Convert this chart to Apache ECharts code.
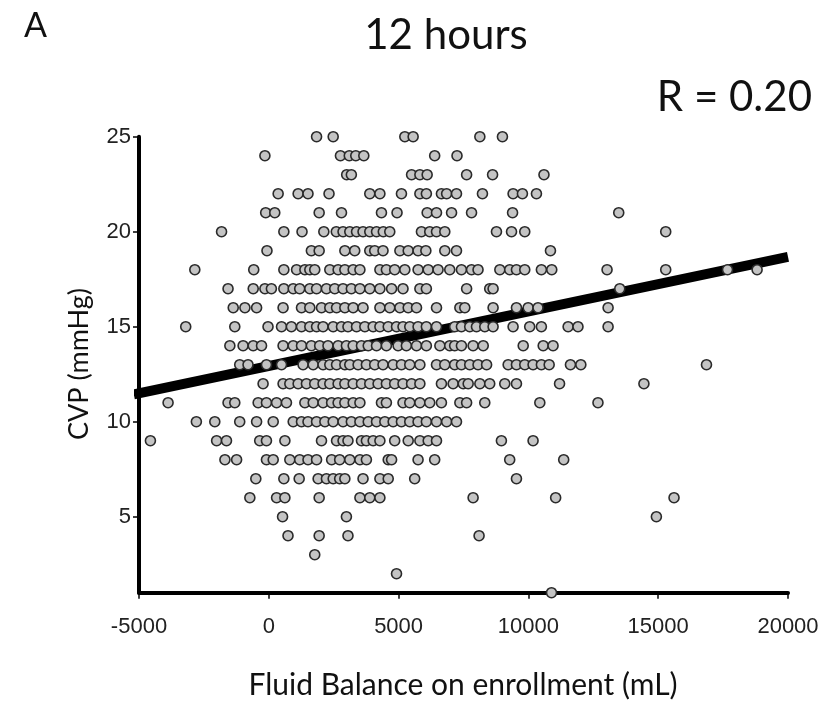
<!DOCTYPE html>
<html>
<head>
<meta charset="utf-8">
<script src="https://cdn.jsdelivr.net/npm/echarts@6/dist/echarts.min.js"></script>
<style>
html,body{margin:0;padding:0;background:#fff;}
#chart{width:821px;height:702px;}
</style>
</head>
<body>
<div id="chart"></div>
<script>
// Fluid balance (mL) of the points at each CVP level (mmHg)
const cvp25 = [1840, 2480, 5240, 5560, 8130, 9000];
const cvp24 = [-150, 2760, 3100, 3350, 3660, 6390, 7250];
const cvp23 = [3000, 3180, 5500, 5820, 6100, 7620, 8620, 10600];
const cvp22 = [360, 1130, 1510, 2320, 3890, 4280, 5110, 5820, 6070, 6650, 6850, 7230, 8230, 9410, 9770, 10310];
const cvp21 = [-120, 230, 1940, 2800, 4340, 4940, 6100, 6460, 7040, 7810, 9390, 13480];
const cvp20 = [-1820, 580, 1280, 2120, 2600, 2860, 3120, 3380, 3630, 3890, 4150, 4410, 4660, 5880, 6200, 6460, 6780, 8770, 9350, 9860, 15290];
const cvp19 = [-70, 1640, 1940, 2930, 3310, 3890, 4080, 4400, 5050, 5370, 5750, 6050, 6780, 7230, 10850];
const cvp18 = [-2850, -580, 580, 1070, 1390, 1580, 1770, 2350, 2670, 2930, 3250, 3510, 4280, 4530, 4850, 5240, 5750, 6140, 6520, 6970, 7420, 7810, 8060, 8900, 9280, 9540, 9860, 10500, 10900, 13030, 15290, 17670, 18810];
const cvp17 = [-1570, -600, -150, 100, 580, 940, 1190, 1580, 1840, 2220, 2540, 2860, 3180, 3510, 3890, 4280, 4730, 5170, 5820, 6070, 7620, 8510, 8640, 13520];
const cvp16 = [-1370, -920, -470, 550, 1260, 1580, 2030, 2350, 2610, 2930, 3250, 3630, 4280, 4660, 5050, 5370, 5690, 6460, 7360, 7550, 8640, 9540, 9990, 10370, 13070];
const cvp15 = [-3200, -1310, -30, 490, 870, 1260, 1580, 1840, 2090, 2480, 2800, 3050, 3380, 3700, 4020, 4280, 4600, 4920, 5170, 5430, 5750, 6070, 6460, 7160, 7420, 7740, 8000, 8320, 8640, 9410, 10050, 10500, 11530, 11910, 13070];
const cvp14 = [-1500, -990, -600, -280, 550, 940, 1260, 1640, 1960, 2280, 2670, 2990, 3250, 3570, 3830, 4150, 4530, 4980, 5300, 5690, 6070, 6590, 6970, 7160, 7420, 7870, 8260, 9800, 10570, 10950];
const cvp13 = [-1120, -800, -90, 490, 1320, 1710, 2090, 2350, 2610, 2930, 3120, 3440, 3760, 4080, 4400, 4790, 5110, 5430, 5820, 6460, 6780, 7160, 7420, 7740, 8060, 8390, 9220, 9540, 9860, 10180, 10500, 10800, 11620, 12020, 16860];
const cvp12 = [-220, 550, 810, 1130, 1450, 1770, 2090, 2350, 2670, 2930, 3250, 3570, 3890, 4210, 4530, 4850, 5170, 5500, 5820, 6650, 7100, 7490, 7680, 8130, 8510, 9090, 9540, 11200, 14450];
const cvp11 = [-3880, -1570, -1310, -410, -90, 300, 680, 1390, 1710, 2090, 2420, 2670, 2930, 3250, 3510, 4340, 4530, 5170, 5430, 5820, 6200, 6650, 7360, 7620, 8320, 10440, 12680];
const cvp10 = [-2790, -2080, -1120, -470, 170, 940, 1260, 1510, 1840, 2160, 2480, 2860, 3180, 3510, 3830, 4150, 4470, 4790, 5110, 5430, 5750, 6070, 6460, 6850, 7230];
const cvp9 = [-4560, -2010, -1630, -350, -90, 620, 2030, 2610, 2860, 3050, 3570, 3760, 4020, 4280, 4850, 5370, 5820, 6140, 6460, 8960, 10180];
const cvp8 = [-1690, -1240, -90, 170, 810, 1190, 1510, 1840, 2420, 2730, 3120, 3510, 3760, 4600, 4730, 5750, 6390, 9280, 11360];
const cvp7 = [-500, 580, 1170, 1900, 2220, 2480, 2730, 2930, 3630, 4280, 4600, 5620, 9540];
const cvp6 = [-730, 300, 620, 1940, 3510, 3890, 4280, 7870, 11050, 15610];
const cvp5 = [530, 2990, 14930];
const cvp4 = [740, 1940, 3050, 8100];
const cvp3 = [1770];
const cvp2 = [4920];
const cvp1 = [10890];

const cvpLevels = [25,24,23,22,21,20,19,18,17,16,15,14,13,12,11,10,9,8,7,6,5,4,3,2,1];
const fluidRows = [cvp25,cvp24,cvp23,cvp22,cvp21,cvp20,cvp19,cvp18,cvp17,cvp16,cvp15,cvp14,cvp13,cvp12,cvp11,cvp10,cvp9,cvp8,cvp7,cvp6,cvp5,cvp4,cvp3,cvp2,cvp1];

// Regression line end points
const fitX = [-5200, 20000];
const fitY = [11.44, 18.68];

// Tick labels
const xTicks = [-5000, 0, 5000, 10000, 15000, 20000];
const yTicks = [5, 10, 15, 20, 25];

const points = [];
cvpLevels.forEach((lvl, i) => fluidRows[i].forEach(x => points.push([x, lvl])));

const chart = echarts.init(document.getElementById('chart'));
const tickFont = "'Liberation Sans', Arial, sans-serif";
const titleFont = "Lato, 'Noto Sans', sans-serif";

chart.setOption({
  animation: false,
  backgroundColor: '#fff',
  grid: { left: 139, right: 33, top: 136.7, bottom: 109.3, outerBoundsMode: 'none' },
  xAxis: {
    type: 'value',
    min: xTicks[0], max: xTicks[xTicks.length - 1], interval: 5000,
    axisLine: { show: true, onZero: false, lineStyle: { color: '#000', width: 4 } },
    axisTick: { show: true, inside: false, length: 6, lineStyle: { color: '#000', width: 1.5 } },
    axisLabel: { show: true, margin: 23, fontSize: 22, color: '#222', fontFamily: tickFont,
      showMinLabel: true, showMaxLabel: true, formatter: v => String(v) },
    splitLine: { show: false }
  },
  yAxis: {
    type: 'value',
    min: 1, max: 25,
    axisLine: { show: true, onZero: false, lineStyle: { color: '#000', width: 4 } },
    axisTick: { show: true, inside: false, length: 6, customValues: yTicks, lineStyle: { color: '#000', width: 1.5 } },
    axisLabel: { show: true, margin: 8, fontSize: 22, color: '#222', fontFamily: tickFont, customValues: yTicks, formatter: v => String(v) },
    splitLine: { show: false }
  },
  graphic: [
    { type: 'text', left: 24, top: 9, style: { text: 'A', font: "34px " + titleFont, fill: '#111' } },
    { type: 'text', x: 446, y: 35, style: { text: '12 hours', font: "42px " + titleFont, fill: '#111', align: 'center', verticalAlign: 'middle' } },
    { type: 'text', x: 812, y: 97, style: { text: 'R = 0.20', font: "42px " + titleFont, fill: '#111', align: 'right', verticalAlign: 'middle' } },
    { type: 'text', x: 79, y: 364, rotation: Math.PI / 2, style: { text: 'CVP (mmHg)', font: "27px " + titleFont, fill: '#111', align: 'center', verticalAlign: 'middle' } },
    { type: 'text', x: 463, y: 685, style: { text: 'Fluid Balance on enrollment (mL)', font: "30px " + titleFont, fill: '#111', align: 'center', verticalAlign: 'middle' } }
  ],
  series: [
    {
      type: 'line',
      data: fitX.map((x, i) => [x, fitY[i]]),
      symbol: 'none',
      clip: false,
      z: 2,
      lineStyle: { color: '#000', width: 10, cap: 'butt' }
    },
    {
      type: 'scatter',
      data: points,
      symbol: 'circle',
      symbolSize: 10,
      z: 3,
      itemStyle: { color: '#c4c4c4', borderColor: '#2a2a2a', borderWidth: 1.6, opacity: 1 }
    }
  ]
});
</script>
</body>
</html>
